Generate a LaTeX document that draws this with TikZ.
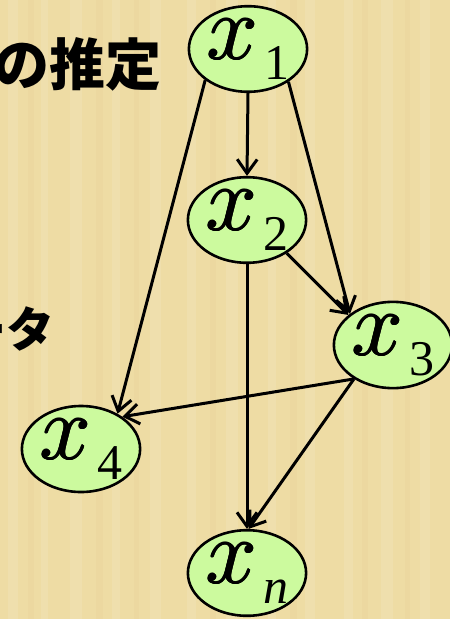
\documentclass[tikz,border=0pt]{standalone}
\usepackage{fix-cm}
\usepackage{fontspec}
\usepackage{xcolor}
\usepackage{tikz}
\usetikzlibrary{arrows.meta,shapes.geometric}

\newfontfamily\jpfont{Noto Sans CJK JP}
\newfontfamily\tmsfont{Liberation Serif}

\definecolor{bgyellow}{RGB}{238,220,164}
\definecolor{nodegreen}{RGB}{204,250,158}

\tikzset{
  var/.style={ellipse, draw=black, line width=2.6pt, fill=nodegreen,
    minimum width=112pt, minimum height=80pt, inner sep=0pt},
  edge/.style={line width=3pt, -{Straight Barb[length=14pt,width=20pt]}}
}
% 太めの x（少しずらして重ね書き）
\newcommand{\heavyx}{\makebox[0pt][l]{$x$}\makebox[0pt][l]{\hspace{1.4pt}$x$}\makebox[0pt][l]{\hspace{0.7pt}\raisebox{0.9pt}{$x$}}\makebox[0pt][l]{\hspace{0.7pt}\raisebox{-0.6pt}{$x$}}\hspace{1.4pt}$x$}
\newcommand{\varlabel}[1]{{\fontsize{92}{92}\selectfont\heavyx}\hspace{6pt}\raisebox{-20pt}{\tmsfont\fontsize{50}{50}\selectfont #1}}

\begin{document}
\begin{tikzpicture}[x=1pt, y=-1pt]

		% 1. 背景
		\useasboundingbox (0,0) rectangle (450,619);
		\clip (0,0) rectangle (450,619);
		\fill[bgyellow] (0,0) rectangle (450,619);
		\foreach \sx/\sw in {8/10, 41/7, 70/12, 112/8, 150/11, 187/9, 226/12, 268/8, 305/10, 344/9, 381/12, 420/10}
			\fill[white, opacity=0.1] (\sx,0) rectangle ++(\sw,619);
		\foreach \sx/\sw in {28/6, 96/7, 134/5, 210/6, 290/7, 362/6, 405/5}
			\fill[brown, opacity=0.04] (\sx,0) rectangle ++(\sw,619);

		% 2. はみ出した見出しの文字
		\node[anchor=east, inner sep=0pt] (title) at (162,64) {\jpfont\bfseries\fontsize{56}{56}\selectfont の推定};
		\node[anchor=east, inner sep=0pt] (word) at (55,329) {\jpfont\bfseries\fontsize{48}{48}\selectfont ータ};

		% 3. 変数ノード
		\node[var] (x1) at (248,49) {\varlabel{1}};
		\node[var, minimum width=114pt, minimum height=84pt] (x2) at (247,220) {\varlabel{2}};
		\node[var] (x3) at (393,345) {\varlabel{3}};
		\node[var, minimum height=86pt] (x4) at (81,449) {\varlabel{4}};
		\node[var, minimum width=114pt] (xn) at (247,573) {\varlabel{\itshape n}};

		% 4. 矢印
		\draw[edge] (x1.270) -- (x2.90);
		\draw[edge] (x1.216) -- (x4.44);
		\draw[edge] (x1.321) -- (x3.144);
		\draw[edge] (x2.320) -- (x3.146);
		\draw[edge] (x2.270) -- (xn.90);
		\draw[edge] (x3.221) -- (x4.38);
		\draw[edge] (x3.221) -- (xn.88);

	\end{tikzpicture}
\end{document}
